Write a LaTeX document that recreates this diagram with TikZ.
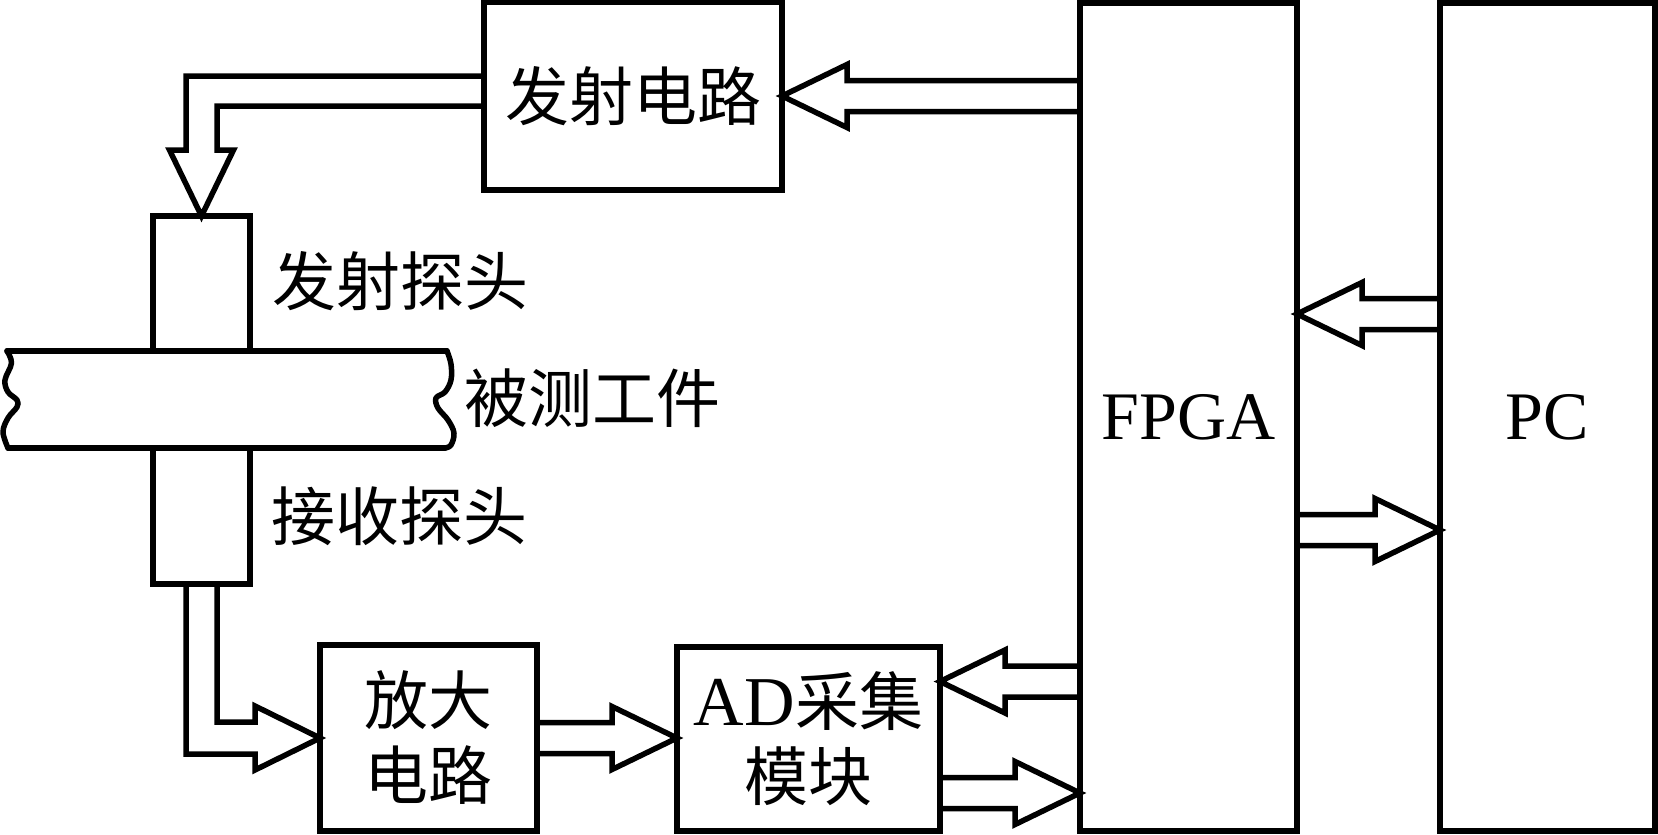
\documentclass[tikz,border=0pt]{standalone}
\usepackage{fontspec}
\setmainfont{Liberation Serif}
\newfontfamily\cjkfont{Noto Sans CJK SC}
\usetikzlibrary{calc}
\tikzset{
  box/.style={draw, line width=5.5pt, rectangle, inner sep=0pt, outer sep=0pt, align=center},
  barrow/.style={draw, line width=5.5pt, line join=miter},
  cjktxt/.style={font=\cjkfont\fontsize{64}{75}\selectfont, inner sep=0pt},
  lattxt/.style={font=\fontsize{68}{76}\selectfont},
  work/.style={draw, line width=5.5pt, line cap=round, line join=round}
}
% horizontal block arrow: #1 tail point, #2 tip point, #3 direction (1 right, -1 left)
\newcommand\blockarrowH[3]{%
  \draw[barrow] let \p1=(#1), \p2=(#2) in
    (\x1,{\y2+15.5pt}) -- ({\x2-(#3)*65pt},{\y2+15.5pt}) -- ({\x2-(#3)*65pt},{\y2+31.5pt})
    -- (\x2,\y2) -- ({\x2-(#3)*65pt},{\y2-31.5pt}) -- ({\x2-(#3)*65pt},{\y2-15.5pt}) -- (\x1,{\y2-15.5pt});}
\begin{document}
\begin{tikzpicture}[x=1pt,y=-1pt]
\useasboundingbox[fill=white] (0,0) rectangle (1658,835);

% boxes
\node[box, minimum width=298pt, minimum height=188pt, cjktxt] (tx) at (633,96) {发射电路};
\node[box, minimum width=217pt, minimum height=828pt, lattxt] (fpga) at (1188.5,417) {FPGA};
\node[box, minimum width=215pt, minimum height=828pt, lattxt] (pc) at (1547.5,417) {PC};
\node[box, minimum width=217pt, minimum height=186pt, cjktxt] (amp) at (428.5,738) {放大\\电路};
\node[box, minimum width=263pt, minimum height=184pt, cjktxt] (ad) at (808.5,739)
  {{\rmfamily\fontsize{70}{75}\selectfont AD}采集\\模块};
\node[box, minimum width=97pt, minimum height=135pt] (probe1) at (201.5,283.5) {};
\node[box, minimum width=97pt, minimum height=136pt] (probe2) at (201.5,516) {};

% workpiece
\draw[work] (7,351) -- (447,351);
\draw[work] (8,448) -- (445,448);
\draw[work] plot[smooth, tension=0.6] coordinates {(7,351) (11.5,363) (5,380) (8,392) (17,400) (17,407) (8,418) (3,432) (8,448)};
\draw[work] plot[smooth, tension=0.6] coordinates {(447,351) (451,364) (451,380) (445,392) (436,398) (438,408) (448,420) (454,433) (451,445) (445,448)};

% labels
\node[cjktxt] (lbtx) at (400,281) {发射探头};
\node[cjktxt] (lbwork) at (592,398) {被测工件};
\node[cjktxt] (lbrx) at (399,516) {接收探头};

% connector coordinates
\coordinate (pcout) at ($(pc.north west)+(0,311)$);
\coordinate (pcin) at ($(pc.north west)+(0,527)$);
\coordinate (adin) at ($(ad.north east)+(0,34.5)$);
\coordinate (adout) at ($(ad.south east)+(0,-38)$);

% arrows
\blockarrowH{fpga.west |- tx.east}{tx.east}{-1}
\blockarrowH{pcout}{fpga.east |- pcout}{-1}
\blockarrowH{fpga.east |- pcin}{pcin}{1}
\blockarrowH{fpga.west |- adin}{adin}{-1}
\blockarrowH{adout}{fpga.west |- adout}{1}
\blockarrowH{amp.east}{ad.west |- amp.east}{1}

% transmit circuit -> transmit probe
\draw[barrow] let \p1=(tx.west), \p2=(probe1.north) in
  (\x1,{\y1+20pt}) -| ({\x2-15.5pt},{\y2+66pt}) -- ({\x2-32pt},{\y2+66pt}) -- (\p2)
  -- ({\x2+32pt},{\y2+66pt}) -- ({\x2+15.5pt},{\y2+66pt}) |- (\x1,{\y1-10pt});

% receive probe -> amplifier
\draw[barrow] let \p1=(probe2.south), \p2=(amp.west) in
  ({\x1-15.5pt},\y1) |- ({\x2-65pt},{\y2-16pt}) -- ({\x2-65pt},{\y2-32pt}) -- (\p2)
  -- ({\x2-65pt},{\y2+32pt}) -- ({\x2-65pt},{\y2+16pt}) -| ({\x1+15.5pt},\y1);
\end{tikzpicture}
\end{document}
